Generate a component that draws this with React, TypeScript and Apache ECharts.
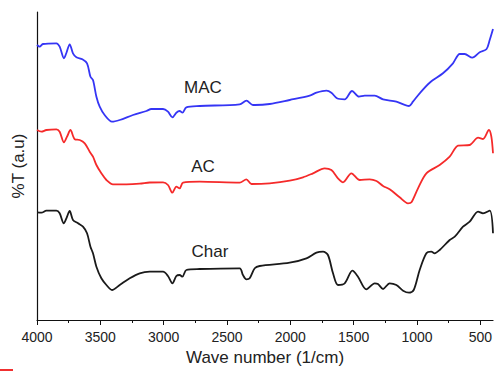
import React, { useEffect, useRef } from "react";
import * as echarts from "echarts";

// Wavenumber (cm^-1) and transmittance (a.u.)
const macWave = [4000, 3979, 3953, 3847, 3821, 3787, 3768, 3742, 3716, 3689, 3642, 3605, 3578, 3558, 3531, 3505, 3466, 3408, 3347, 3242, 3136, 3097, 3005, 2966, 2931, 2900, 2874, 2852, 2821, 2716, 2400, 2347, 2295, 2281, 2163, 2005, 1847, 1794, 1715, 1676, 1632, 1571, 1513, 1458, 1413, 1334, 1268, 1163, 1063, 1032, 979, 900, 795, 716, 663, 624, 563, 505, 452, 426, 400];
const macT = [275, 273.3, 276, 276.7, 273.3, 261.7, 267, 275.7, 266.7, 262.7, 260.7, 256.7, 243.3, 240, 223.3, 213.3, 205, 198.3, 200, 205, 209, 211, 211, 208.3, 202.7, 207.3, 209, 207.3, 212.7, 214, 215.7, 219.3, 215, 215, 216, 220, 224.3, 227.3, 229.3, 227.3, 221.7, 220.7, 229, 223.3, 224.3, 224.3, 220.7, 218.3, 214, 218.3, 226.7, 237.3, 246.7, 256.7, 266, 266, 262.3, 267.7, 270.7, 280, 291];

const acWave = [4000, 3965, 3926, 3847, 3821, 3787, 3763, 3736, 3702, 3663, 3623, 3584, 3558, 3531, 3492, 3452, 3400, 3294, 3189, 3110, 3005, 2966, 2931, 2900, 2874, 2847, 2716, 2400, 2347, 2307, 2163, 2005, 1900, 1821, 1729, 1676, 1624, 1584, 1518, 1452, 1374, 1320, 1268, 1216, 1137, 1071, 1044, 992, 926, 821, 742, 676, 584, 518, 479, 432, 413, 400];
const acT = [190, 188.3, 190, 190.7, 188.3, 177.7, 183.3, 190, 180.7, 180, 176.7, 168.3, 163.3, 155, 146.7, 140, 135.7, 135.7, 136.3, 137.5, 137.7, 135, 127.3, 133.3, 131.7, 137.3, 138.3, 137.3, 140.7, 136, 136.7, 139.3, 142.7, 146.7, 151.7, 150, 141.7, 137.7, 146.7, 140, 140.7, 139, 134, 130.7, 122.7, 116.7, 117.7, 131.7, 146.7, 155, 163.3, 174.3, 175, 182.3, 181, 190, 183.3, 166.7];

const charWave = [4000, 3965, 3926, 3847, 3821, 3789, 3768, 3742, 3716, 3676, 3637, 3605, 3578, 3558, 3531, 3492, 3452, 3408, 3347, 3268, 3189, 3110, 3005, 2966, 2931, 2900, 2874, 2852, 2821, 2716, 2400, 2374, 2347, 2321, 2281, 2242, 2005, 1873, 1794, 1742, 1703, 1663, 1624, 1571, 1510, 1466, 1400, 1334, 1308, 1268, 1216, 1163, 1110, 1063, 1026, 979, 926, 887, 861, 821, 742, 702, 637, 584, 518, 479, 426, 400];
const charT = [107.7, 107.3, 109.3, 109.3, 106.7, 96.7, 101.7, 109, 100, 96.7, 93.3, 86.7, 73.3, 66.7, 53.3, 41.7, 35, 30, 35, 41.7, 46.7, 48.3, 48.3, 44, 36.7, 44, 45, 43.3, 50, 51, 51.7, 45, 40.7, 41.7, 51.7, 54, 57.3, 61.7, 67.3, 68.3, 65, 46.7, 35, 36.7, 49.3, 43.3, 30.7, 36.7, 36, 31, 36.7, 35, 29.3, 27.3, 30, 50, 66.7, 68.3, 66.7, 70, 80, 83.3, 93.3, 98.3, 108.3, 106.7, 109.3, 86.7];

const majorTicks = [4000, 3500, 3000, 2500, 2000, 1500, 1000, 500];
const minorTicks = [3750, 3250, 2750, 2250, 1750, 1250, 750];
const seriesNames = ["MAC", "AC", "Char"];

const FONT = "Liberation Sans, Arial, sans-serif";

function pairs(w: number[], t: number[]) {
  return w.map((x, i) => [x, t[i]]);
}

export default function App() {
  const ref = useRef<HTMLDivElement>(null);
  useEffect(() => {
    if (!ref.current) return;
    const chart = echarts.init(ref.current, null, { renderer: "svg" });
    const lineStyle = (c: string) => ({ color: c, width: 1.8 });
    chart.setOption({
      animation: false,
      backgroundColor: "#ffffff",
      grid: { left: 37, right: 6, top: 12, bottom: 50.5 },
      xAxis: [
        {
          type: "value",
          min: 400,
          max: 4000,
          inverse: true,
          name: "Wave number (1/cm)",
          nameLocation: "middle",
          nameGap: 29,
          nameTextStyle: { fontFamily: FONT, fontSize: 17, color: "#222" },
          axisLine: { show: true, lineStyle: { color: "#111", width: 1.2 } },
          axisTick: { show: true, length: 5, customValues: majorTicks, lineStyle: { color: "#111" } },
          axisLabel: {
            customValues: majorTicks,
            formatter: (v: number) => String(v),
            fontFamily: FONT,
            fontSize: 14,
            color: "#222",
            margin: 10,
          },
          splitLine: { show: false },
        },
        {
          type: "value",
          min: 400,
          max: 4000,
          inverse: true,
          position: "bottom",
          axisLine: { show: false },
          axisTick: { show: true, length: 3, customValues: minorTicks, lineStyle: { color: "#111" } },
          axisLabel: { show: false },
          splitLine: { show: false },
        },
      ],
      yAxis: {
        type: "value",
        min: 0,
        max: 308,
        name: "%T (a.u)",
        nameLocation: "middle",
        nameGap: 10,
        nameTextStyle: { fontFamily: FONT, fontSize: 17, color: "#222" },
        axisLine: { show: true, lineStyle: { color: "#111", width: 1.2 } },
        axisTick: { show: false },
        axisLabel: { show: false },
        splitLine: { show: false },
      },
      series: [
        { name: seriesNames[0], type: "line", data: pairs(macWave, macT), smooth: 0.3, symbol: "none", lineStyle: lineStyle("#3535f5") },
        { name: seriesNames[1], type: "line", data: pairs(acWave, acT), smooth: 0.3, symbol: "none", lineStyle: lineStyle("#f52a2a") },
        { name: seriesNames[2], type: "line", data: pairs(charWave, charT), smooth: 0.3, symbol: "none", lineStyle: lineStyle("#1a1a1a") },
      ],
      graphic: [
        { type: "text", x: 203, y: 87, style: { text: seriesNames[0], font: `17px ${FONT}`, fill: "#222", align: "center", verticalAlign: "middle" } },
        { type: "text", x: 203, y: 166, style: { text: seriesNames[1], font: `17px ${FONT}`, fill: "#222", align: "center", verticalAlign: "middle" } },
        { type: "text", x: 210, y: 251, style: { text: seriesNames[2], font: `17px ${FONT}`, fill: "#222", align: "center", verticalAlign: "middle" } },
        { type: "rect", shape: { x: 0, y: 369, width: 13, height: 2 }, style: { fill: "#f03030" } },
      ],
    });
    return () => chart.dispose();
  }, []);
  return <div ref={ref} style={{ position: "fixed", left: 0, top: 0, width: 499, height: 371 }} />;
}
